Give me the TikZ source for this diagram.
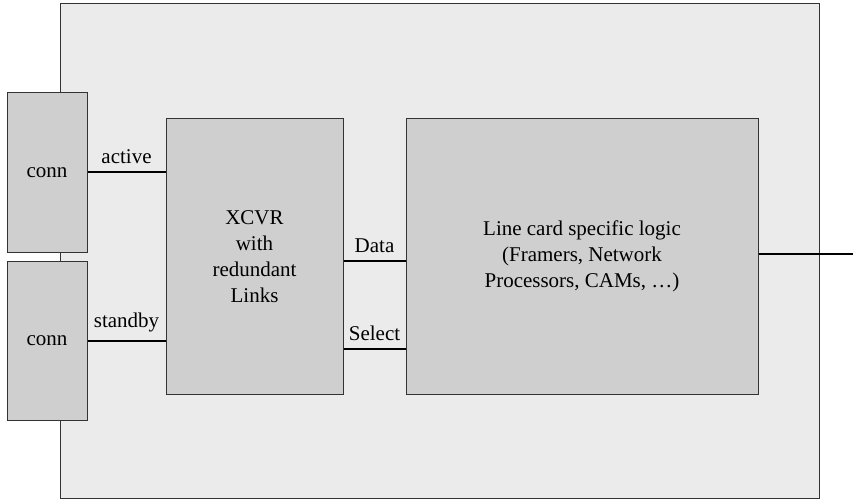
\documentclass[tikz,border=0pt]{standalone}
\usepackage{fontspec}
\setmainfont{Liberation Serif}
\begin{document}
\begin{tikzpicture}[x=1pt,y=-1pt,
  every node/.style={font=\fontsize{21}{26}\selectfont, inner sep=0pt},
  panel/.style={draw=black!80, line width=1pt, fill=black!8},
  block/.style={draw=black!80, line width=1pt, fill=black!19, align=center},
  link/.style={draw=black, line width=2.2pt},
  tag/.style={anchor=south, inner sep=0pt, yshift=7.5pt}]
  \useasboundingbox (0,0) rectangle (853,500);
  % line card chassis
  \node[panel, minimum width=759pt, minimum height=494pt] (card) at (439.5,251) {};
  % connectors
  \node[block, minimum width=80pt, minimum height=159pt] (conna) at (47,172.5) {conn};
  \node[block, minimum width=80pt, minimum height=159pt] (connb) at (47,340.5) {conn};
  % transceiver and logic blocks
  \node[block, minimum width=177pt, minimum height=275pt] (xcvr) at (254.5,256.5) {XCVR\\with\\redundant\\Links};
  \node[block, minimum width=352pt, minimum height=275pt] (logic) at (582,256.5) {Line card specific logic\\(Framers, Network\\Processors, CAMs, \dots)};
  \coordinate (out) at (853,254);
  % links
  \draw[link] (conna.east |- 0,172) -- node[tag]{active} (xcvr.west |- 0,172);
  \draw[link] (connb.east |- 0,341) -- node[tag]{standby} (xcvr.west |- 0,341);
  \draw[link] (xcvr.east |- 0,261) -- node[tag]{Data} (logic.west |- 0,261);
  \draw[link] (xcvr.east |- 0,349) -- node[tag]{Select} (logic.west |- 0,349);
  \draw[link] (logic.east |- out) -- (out);
\end{tikzpicture}
\end{document}
